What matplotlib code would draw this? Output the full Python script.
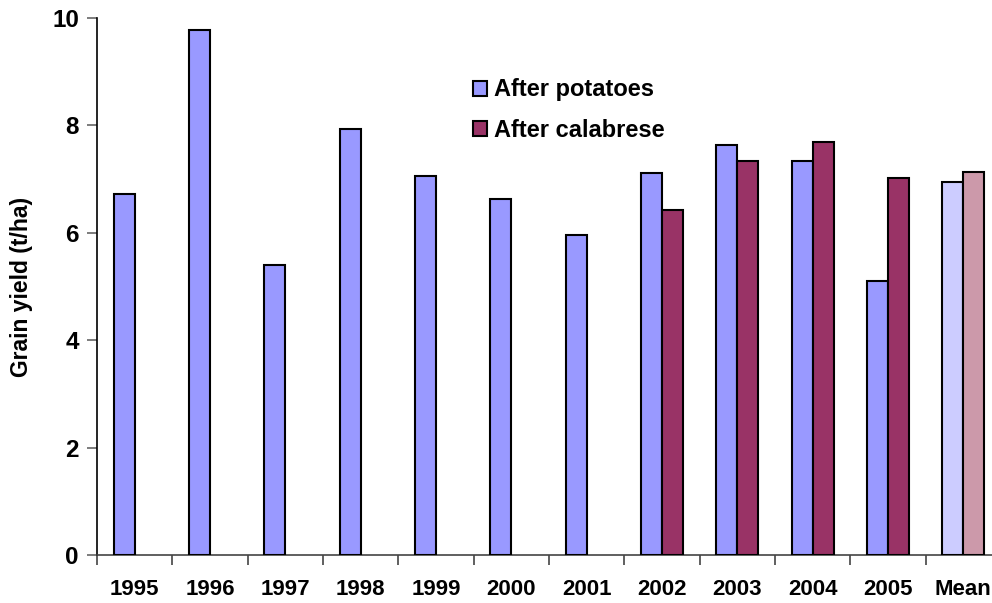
import numpy as np
import matplotlib.pyplot as plt

years = ['1995', '1996', '1997', '1998', '1999', '2000', '2001',
         '2002', '2003', '2004', '2005', 'Mean']
potatoes = [6.72, 9.78, 5.40, 7.93, 7.06, 6.63, 5.96, 7.11, 7.63, 7.34, 5.10, 6.95]
calabrese = [np.nan] * 7 + [6.42, 7.34, 7.70, 7.02, 7.13]

pot_colors = ['#9999FF'] * 11 + ['#CCCCFF']
cal_colors = ['#993366'] * 11 + ['#CC99AA']

plt.rcParams['font.family'] = ['Liberation Sans', 'DejaVu Sans']
plt.rcParams['font.weight'] = 'bold'

fig = plt.figure(figsize=(9.92, 6.03), dpi=100)
ax = fig.add_axes([97 / 992, 1 - 555 / 603, 904 / 992, 537 / 603])

x = np.arange(len(years)) + 0.5
w = 0.28
ax.bar(x - w / 2, potatoes, w, color=pot_colors, edgecolor='black', linewidth=1.5,
       label='After potatoes', zorder=3)
ax.bar(x + w / 2, calabrese, w, color=cal_colors, edgecolor='black', linewidth=1.5,
       label='After calabrese', zorder=3)

ax.set_xlim(0, 12)
ax.set_ylim(0, 10)
ax.set_yticks([0, 2, 4, 6, 8, 10])
ax.set_xticks(np.arange(0, 13))
ax.set_xticklabels([])
ax.set_xticks(x, minor=True)
ax.set_xticklabels(years, minor=True, fontsize=16, fontweight='bold')
ax.tick_params(axis='x', which='minor', length=0, pad=17)
ax.tick_params(axis='x', which='major', length=7, width=1.2, color='#444444', direction='out')
ax.tick_params(axis='y', length=7, width=1.2, color='#666666', labelsize=17.5, pad=6)
for lab in ax.get_yticklabels():
    lab.set_fontweight('bold')

ax.spines['top'].set_visible(False)
ax.spines['right'].set_visible(False)
ax.spines['left'].set_linewidth(1.2)
ax.spines['bottom'].set_linewidth(1.2)
ax.spines['bottom'].set_color('#444444')

ax.set_ylabel('Grain yield (t/ha)', fontsize=16.5, fontweight='bold', labelpad=14)

leg = ax.legend(loc='upper left', bbox_to_anchor=(0.405, 0.905), frameon=False,
                fontsize=17, handlelength=0.6, handleheight=0.6, handletextpad=0.3,
                labelspacing=0.75, borderaxespad=0)
for t in leg.get_texts():
    t.set_fontweight('bold')

fig.savefig('out.png', dpi=100)
